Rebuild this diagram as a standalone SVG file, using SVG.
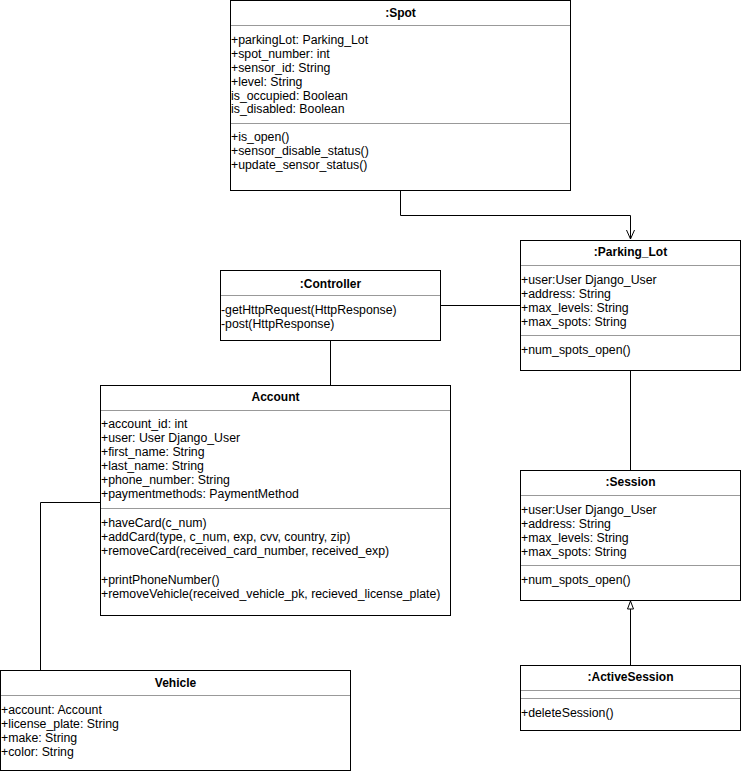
<svg xmlns="http://www.w3.org/2000/svg" width="741" height="771" viewBox="0 0 741 771">
<style>
.box{fill:#fff;stroke:#000;stroke-width:1}
.sep{stroke:#999;stroke-width:1}
.t{font-family:"Liberation Sans",Arial,sans-serif;font-size:12.3px;fill:#000}
.h{font-family:"Liberation Sans",Arial,sans-serif;font-size:12px;font-weight:bold;fill:#000;text-anchor:middle}
.c{fill:none;stroke:#000;stroke-width:1}
</style>
<defs>
<marker id="open" markerWidth="12" markerHeight="12" refX="10" refY="5" orient="auto" markerUnits="userSpaceOnUse">
<path d="M1,1 L10,5 L1,9" fill="none" stroke="#000" stroke-width="1"/>
</marker>
<marker id="gen" markerWidth="12" markerHeight="12" refX="9" refY="4" orient="auto" markerUnits="userSpaceOnUse">
<path d="M1,1 L9,4 L1,7 Z" fill="#fff" stroke="#000" stroke-width="1"/>
</marker>
</defs>
<rect width="741" height="771" fill="#fff"/>
<g id="connectors">
<path class="c" d="M400.5,190 V215.5 H630.5 V239" marker-end="url(#open)"/>
<path class="c" d="M440,305.5 H520"/>
<path class="c" d="M330.5,340 V385"/>
<path class="c" d="M630.5,370 V470"/>
<path class="c" d="M630.5,665 V601" marker-end="url(#gen)"/>
<path class="c" d="M100,502.5 H40.5 V670"/>
</g>
<g id="spot">
<rect class="box" x="230.5" y="0.5" width="340" height="190"/>
<text class="h" x="400.5" y="16.5">:Spot</text>
<line class="sep" x1="231" y1="25.5" x2="570" y2="25.5"/>
<text class="t" x="231" y="44">+parkingLot: Parking_Lot</text>
<text class="t" x="231" y="58">+spot_number: int</text>
<text class="t" x="231" y="72">+sensor_id: String</text>
<text class="t" x="231" y="85.5">+level: String</text>
<text class="t" x="231" y="99.5">is_occupied: Boolean</text>
<text class="t" x="231" y="113">is_disabled: Boolean</text>
<line class="sep" x1="231" y1="123.5" x2="570" y2="123.5"/>
<text class="t" x="231" y="141">+is_open()</text>
<text class="t" x="231" y="155">+sensor_disable_status()</text>
<text class="t" x="231" y="169">+update_sensor_status()</text>
</g>
<g id="parking_lot">
<rect class="box" x="520.5" y="240.5" width="220" height="130"/>
<text class="h" x="630.5" y="255.5">:Parking_Lot</text>
<line class="sep" x1="521" y1="265.5" x2="740" y2="265.5"/>
<text class="t" x="521" y="284">+user:User Django_User</text>
<text class="t" x="521" y="298">+address: String</text>
<text class="t" x="521" y="312">+max_levels: String</text>
<text class="t" x="521" y="326">+max_spots: String</text>
<line class="sep" x1="521" y1="335.5" x2="740" y2="335.5"/>
<text class="t" x="521" y="353.5">+num_spots_open()</text>
</g>
<g id="controller">
<rect class="box" x="220.5" y="270.5" width="220" height="70"/>
<text class="h" x="330.5" y="287.5">:Controller</text>
<line class="sep" x1="221" y1="295.5" x2="440" y2="295.5"/>
<text class="t" x="221" y="314">-getHttpRequest(HttpResponse)</text>
<text class="t" x="221" y="328">-post(HttpResponse)</text>
</g>
<g id="account">
<rect class="box" x="100.5" y="385.5" width="350" height="230"/>
<text class="h" x="275.5" y="401">Account</text>
<line class="sep" x1="101" y1="410.5" x2="450" y2="410.5"/>
<text class="t" x="101" y="428">+account_id: int</text>
<text class="t" x="101" y="442">+user: User Django_User</text>
<text class="t" x="101" y="456">+first_name: String</text>
<text class="t" x="101" y="470">+last_name: String</text>
<text class="t" x="101" y="484">+phone_number: String</text>
<text class="t" x="101" y="498">+paymentmethods: PaymentMethod</text>
<line class="sep" x1="101" y1="508.5" x2="450" y2="508.5"/>
<text class="t" x="101" y="527">+haveCard(c_num)</text>
<text class="t" x="101" y="541">+addCard(type, c_num, exp, cvv, country, zip)</text>
<text class="t" x="101" y="555">+removeCard(received_card_number, received_exp)</text>
<text class="t" x="101" y="584">+printPhoneNumber()</text>
<text class="t" x="101" y="598">+removeVehicle(received_vehicle_pk, recieved_license_plate)</text>
</g>
<g id="session">
<rect class="box" x="520.5" y="470.5" width="220" height="130"/>
<text class="h" x="630.5" y="486">:Session</text>
<line class="sep" x1="521" y1="495.5" x2="740" y2="495.5"/>
<text class="t" x="521" y="514">+user:User Django_User</text>
<text class="t" x="521" y="528">+address: String</text>
<text class="t" x="521" y="542">+max_levels: String</text>
<text class="t" x="521" y="556">+max_spots: String</text>
<line class="sep" x1="521" y1="565.5" x2="740" y2="565.5"/>
<text class="t" x="521" y="583.5">+num_spots_open()</text>
</g>
<g id="active_session">
<rect class="box" x="520.5" y="665.5" width="220" height="65"/>
<text class="h" x="630.5" y="681">:ActiveSession</text>
<line class="sep" x1="521" y1="690.5" x2="740" y2="690.5"/>
<line class="sep" x1="521" y1="698.5" x2="740" y2="698.5"/>
<text class="t" x="521" y="717">+deleteSession()</text>
</g>
<g id="vehicle">
<rect class="box" x="0.5" y="670.5" width="350" height="100"/>
<text class="h" x="175.5" y="687">Vehicle</text>
<line class="sep" x1="1" y1="695.5" x2="350" y2="695.5"/>
<text class="t" x="1" y="714">+account: Account</text>
<text class="t" x="1" y="728">+license_plate: String</text>
<text class="t" x="1" y="742">+make: String</text>
<text class="t" x="1" y="756">+color: String</text>
</g>
</svg>
